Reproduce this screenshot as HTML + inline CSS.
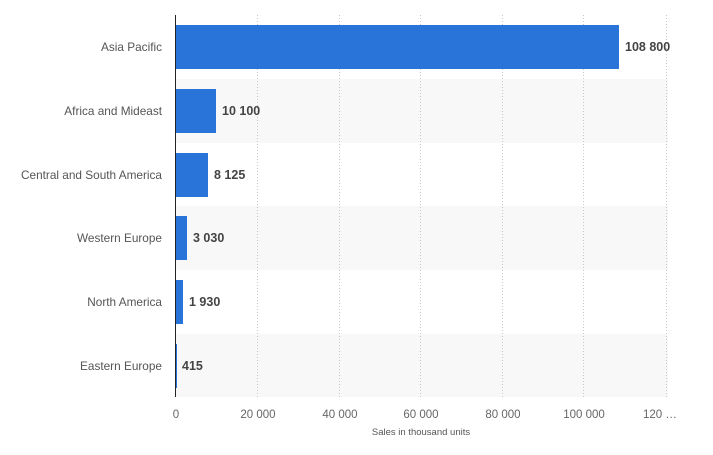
<!DOCTYPE html><html><head><style>body{margin:0;background:#fff}svg{display:block}</style></head><body>
<svg width="713" height="455" xmlns="http://www.w3.org/2000/svg" font-family="Liberation Sans, sans-serif">
<g fill="#f8f8f8">
<rect x="175" y="79" width="493" height="64"/>
<rect x="175" y="206" width="493" height="64"/>
<rect x="175" y="334" width="493" height="63"/>
</g>
<g stroke="#c8c8c8" stroke-dasharray="1,2" stroke-width="1">
<line x1="257.5" y1="15" x2="257.5" y2="397"/>
<line x1="339.5" y1="15" x2="339.5" y2="397"/>
<line x1="420.5" y1="15" x2="420.5" y2="397"/>
<line x1="502.5" y1="15" x2="502.5" y2="397"/>
<line x1="583.5" y1="15" x2="583.5" y2="397"/>
<line x1="666.5" y1="15" x2="666.5" y2="397"/>
</g>
<g fill="#2874d9">
<rect x="175" y="25" width="444" height="44"/>
<rect x="175" y="89" width="41" height="44"/>
<rect x="175" y="153" width="33" height="44"/>
<rect x="175" y="216" width="12" height="44"/>
<rect x="175" y="280" width="8" height="44"/>
<rect x="175" y="344" width="2" height="44"/>
</g>
<line x1="175.5" y1="15" x2="175.5" y2="397" stroke="#222" stroke-width="1"/>
<g font-size="11.8" fill="#555" text-anchor="end">
<text x="162" y="51">Asia Pacific</text>
<text x="162" y="115">Africa and Mideast</text>
<text x="162" y="179">Central and South America</text>
<text x="162" y="242">Western Europe</text>
<text x="162" y="306">North America</text>
<text x="162" y="370">Eastern Europe</text>
</g>
<g font-size="12.5" font-weight="bold" fill="#444">
<text x="625" y="51">108 800</text>
<text x="222" y="115">10 100</text>
<text x="214" y="179">8 125</text>
<text x="193" y="242">3 030</text>
<text x="189" y="306">1 930</text>
<text x="182" y="370">415</text>
</g>
<g font-size="11.5" fill="#666" text-anchor="middle">
<text x="176" y="418">0</text>
<text x="258" y="418">20 000</text>
<text x="340" y="418">40 000</text>
<text x="421" y="418">60 000</text>
<text x="503" y="418">80 000</text>
<text x="584" y="418">100 000</text>
<text x="643" y="418" text-anchor="start">120 …</text>
</g>
<text x="421" y="435" font-size="9.5" fill="#555" text-anchor="middle">Sales in thousand units</text>
</svg></body></html>
